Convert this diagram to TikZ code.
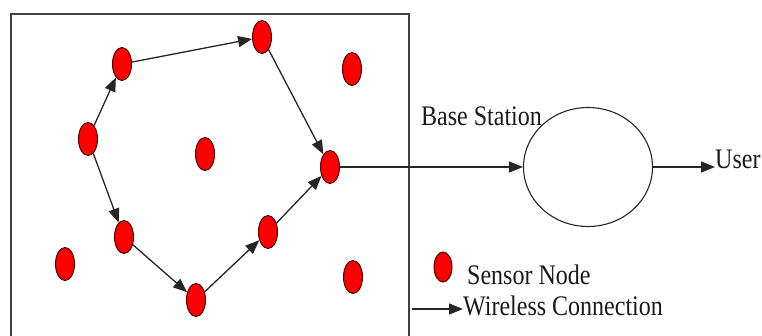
\documentclass[tikz,border=0pt]{standalone}
\usepackage{fontspec}
\setmainfont{Liberation Serif}
\usetikzlibrary{arrows.meta, positioning, shapes.geometric}
\newcommand{\tallword}[1]{\scalebox{1}[1.18]{#1}}

\begin{document}
\begin{tikzpicture}[
	  x=1pt, y=-1pt,
	  sensor_style/.style={
	  	ellipse,
	  	draw=black!70!red,
	  	fill=red,
	  	line width=1pt,
	  	minimum width=19pt,
	  	minimum height=33pt,
	  	inner sep=0pt
	  },
	  station_style/.style={
	  	ellipse,
	  	draw=black!85,
	  	line width=1.1pt,
	  	minimum width=129pt,
	  	minimum height=119pt
	  },
	  link_style/.style={
	  	-{Triangle[length=14pt,width=11pt]},
	  	line width=1.3pt,
	  	black!85
	  },
	  label_style/.style={
	  	font=\fontsize{24}{28}\selectfont,
	  	inner sep=0pt,
	  	text=black!90
	  }]
	\useasboundingbox (0,0) rectangle (762,335);
	% Field
	\draw[line width=1.5pt, black!75] (11,14) rectangle (409,345);
	% Sensor nodes
	\node[sensor_style] (sn_a) at (122,64) {};
	\node[sensor_style] (sn_b) at (262,37) {};
	\node[sensor_style] (sn_c) at (352,69) {};
	\node[sensor_style] (sn_d) at (88,139) {};
	\node[sensor_style] (sn_e) at (205,154) {};
	\node[sensor_style] (sn_f) at (330,167) {};
	\node[sensor_style] (sn_g) at (124,237) {};
	\node[sensor_style] (sn_h) at (268,232) {};
	\node[sensor_style] (sn_i) at (65,264) {};
	\node[sensor_style] (sn_j) at (196,300) {};
	\node[sensor_style] (sn_k) at (353,277) {};
	% Routes
	\draw[link_style] (sn_d) -- (sn_a);
	\draw[link_style] (sn_a) -- (sn_b);
	\draw[link_style] (sn_b) -- (sn_f);
	\draw[link_style] (sn_d) -- (sn_g);
	\draw[link_style] (sn_g) -- (sn_j);
	\draw[link_style] (sn_j) -- (sn_h);
	\draw[link_style] (sn_h) -- (sn_f);
	% Base station and user
	\node[station_style] (station) at (588,167) {};
	\node[label_style, anchor=base west] (station_label) at (421,125) {\tallword{Base Station}};
	\draw[link_style] (sn_f) -- (station);
	\node[label_style, anchor=base west] (user) at (715,168) {\tallword{User}};
	\draw[link_style] (station.east) -- (station.east -| user.west);
	% Legend
	\node[sensor_style, minimum width=18pt, minimum height=30pt] (legend_sensor) at (443,267) {};
	\node[label_style, anchor=base west] (legend_sensor_label) at (467,284) {\tallword{Sensor Node}};
	\node[label_style, anchor=base west] (legend_link_label) at (463,315) {\tallword{Wireless Connection}};
	\coordinate (legend_link_start) at (412,309);
	\draw[link_style] (legend_link_start) -- (legend_link_start -| legend_link_label.west);
\end{tikzpicture}
\end{document}
